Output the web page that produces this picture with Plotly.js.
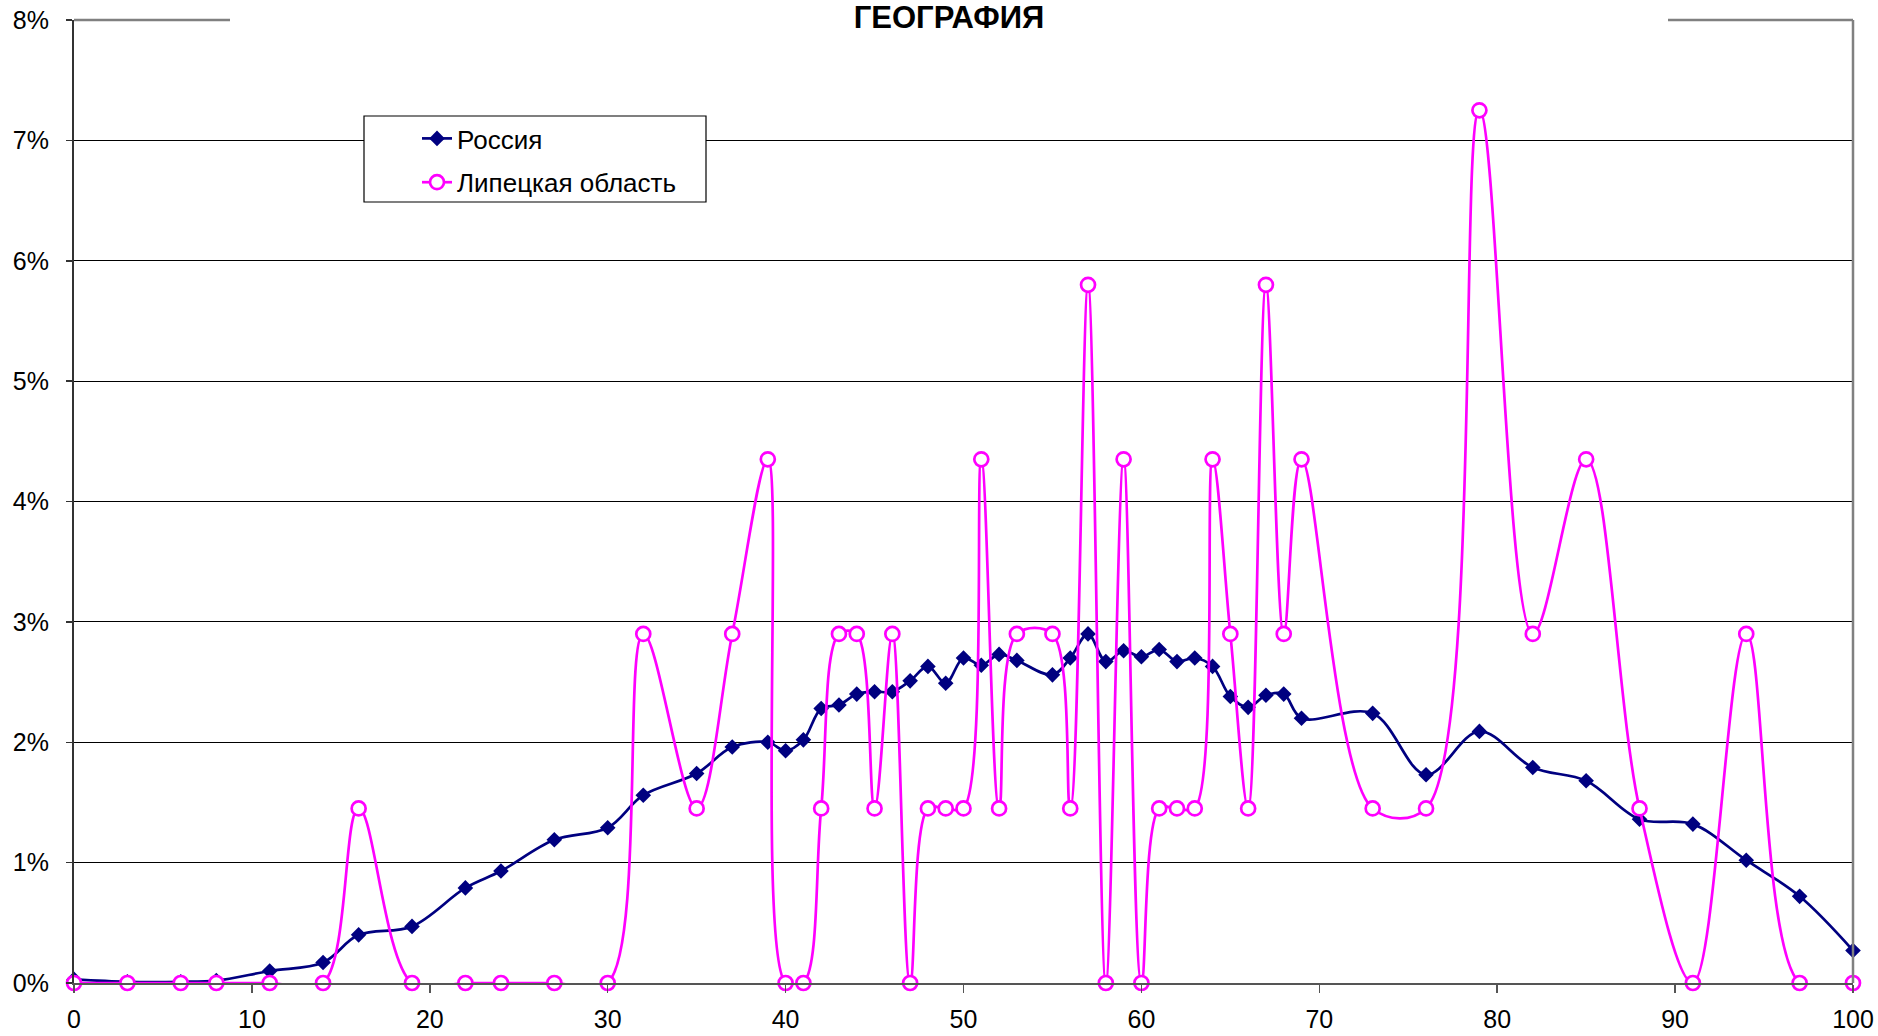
<!DOCTYPE html>
<html>
<head>
<meta charset="utf-8">
<script src="https://cdn.plot.ly/plotly-3.0.1.min.js"></script>
<style>
  html, body { margin: 0; padding: 0; background: #fff; }
  #chart { width: 1878px; height: 1036px; }
</style>
</head>
<body>
<div id="chart"></div>
<script>
// Age (x) values
const ages = [0,3,6,8,11,14,16,19,22,24,27,30,32,35,37,39,40,41,42,43,44,45,46,47,48,49,50,51,52,53,55,56,57,58,59,60,61,62,63,64,65,66,67,68,69,73,76,79,82,85,88,91,94,97,100];

// Россия, %
const russia = [0.03,0.01,0.01,0.02,0.10,0.17,0.40,0.47,0.79,0.93,
                1.19,1.29,1.56,1.74,1.96,2.00,1.93,2.02,2.28,2.31,
                2.40,2.42,2.42,2.51,2.63,2.49,2.70,2.64,2.73,2.68,
                2.56,2.70,2.90,2.67,2.76,2.71,2.77,2.67,2.70,2.63,
                2.38,2.29,2.39,2.40,2.20,2.24,1.73,2.09,1.79,1.68,
                1.36,1.32,1.02,0.72,0.27];

// Липецкая область, %
const lipetsk = [0,0,0,0,0,0,1.45,0,0,0,
                 0,0,2.9,1.45,2.9,4.35,0,0,1.45,2.9,
                 2.9,1.45,2.9,0,1.45,1.45,1.45,4.35,1.45,2.9,
                 2.9,1.45,5.8,0,4.35,0,1.45,1.45,1.45,4.35,
                 2.9,1.45,5.8,2.9,4.35,1.45,1.45,7.25,2.9,4.35,
                 1.45,0,2.9,0,0];

const seriesNames = ['Россия', 'Липецкая область'];
const chartTitle = 'ГЕОГРАФИЯ';
const xTicks = [0,10,20,30,40,50,60,70,80,90,100];
const yTicks = [0,1,2,3,4,5,6,7,8];

const FONT = 'Liberation Sans, Arial, sans-serif';

// plot area in pixels
const W = 1878, H = 1036;
const L = 74, R = 1853, T = 20, B = 983;
const pw = R - L, ph = B - T;
const px = v => (v - L) / pw;
const py = v => (B - v) / ph;

const traces = [
  {
    x: ages, y: russia, name: seriesNames[0], type: 'scatter', mode: 'lines+markers',
    legendgroup: 'a',
    line: { color: '#000080', width: 2.7, shape: 'spline', smoothing: 1 },
    marker: { symbol: 'diamond', size: 12, color: '#000080', line: { width: 0 } },
    cliponaxis: false
  },
  {
    x: ages, y: lipetsk, name: seriesNames[1], type: 'scatter', mode: 'lines+markers',
    legendgroup: 'b',
    line: { color: '#ff00ff', width: 2.7, shape: 'spline', smoothing: 1 },
    marker: { symbol: 'circle', size: 14, color: '#ffffff', line: { color: '#ff00ff', width: 2.7 } },
    cliponaxis: false
  }
];

const layout = {
  width: W, height: H,
  margin: { l: L, r: W - R, t: T, b: H - B, pad: 0 },
  paper_bgcolor: '#fff', plot_bgcolor: '#fff',
  font: { family: FONT, color: '#000', size: 25 },
  title: {
    text: '<b>' + chartTitle + '</b>',
    font: { family: FONT, size: 31, color: '#000' },
    x: 949 / W, xref: 'container', xanchor: 'center',
    y: 1 - 17 / H, yref: 'container', yanchor: 'middle'
  },
  showlegend: true,
  legend: {
    x: px(417), y: py(115), xref: 'paper', yref: 'paper',
    xanchor: 'left', yanchor: 'top',
    bgcolor: 'rgba(0,0,0,0)', borderwidth: 0,
    font: { family: FONT, size: 26, color: '#000' },
    tracegroupgap: 7,
    itemwidth: 30
  },
  xaxis: {
    range: [0, 100], tickvals: xTicks, ticktext: xTicks.map(String),
    showgrid: false, zeroline: false,
    showline: true, linecolor: '#555', linewidth: 2,
    ticks: 'outside', ticklen: 8, tickwidth: 1.5, tickcolor: '#555',
    ticklabelstandoff: 5,
    tickfont: { family: FONT, size: 25, color: '#000' },
    fixedrange: true
  },
  yaxis: {
    range: [0, 8], tickvals: yTicks, ticktext: yTicks.map(v => v + '%'),
    showgrid: true, gridcolor: '#000', gridwidth: 1,
    zeroline: false,
    showline: true, linecolor: '#333', linewidth: 2,
    ticks: 'outside', ticklen: 6, tickwidth: 1.5, tickcolor: '#333',
    ticklabelstandoff: 12,
    tickfont: { family: FONT, size: 25, color: '#000' },
    fixedrange: true
  },
  shapes: [
    // top border (interrupted by title box)
    { type: 'line', xref: 'paper', yref: 'paper', x0: 0, x1: px(230), y0: 1, y1: 1,
      line: { color: '#808080', width: 2.5 }, layer: 'above' },
    { type: 'line', xref: 'paper', yref: 'paper', x0: px(1668), x1: 1, y0: 1, y1: 1,
      line: { color: '#808080', width: 2.5 }, layer: 'above' },
    // right border
    { type: 'line', xref: 'paper', yref: 'paper', x0: 1, x1: 1, y0: 0, y1: 1,
      line: { color: '#808080', width: 2.5 }, layer: 'above' },
    // legend box
    { type: 'rect', xref: 'paper', yref: 'paper',
      x0: px(364), x1: px(706), y0: py(202), y1: py(116),
      fillcolor: '#fff', line: { color: '#000', width: 1.2 }, layer: 'above' }
  ]
};

Plotly.newPlot('chart', traces, layout, { staticPlot: true, displayModeBar: false });
</script>
</body>
</html>
